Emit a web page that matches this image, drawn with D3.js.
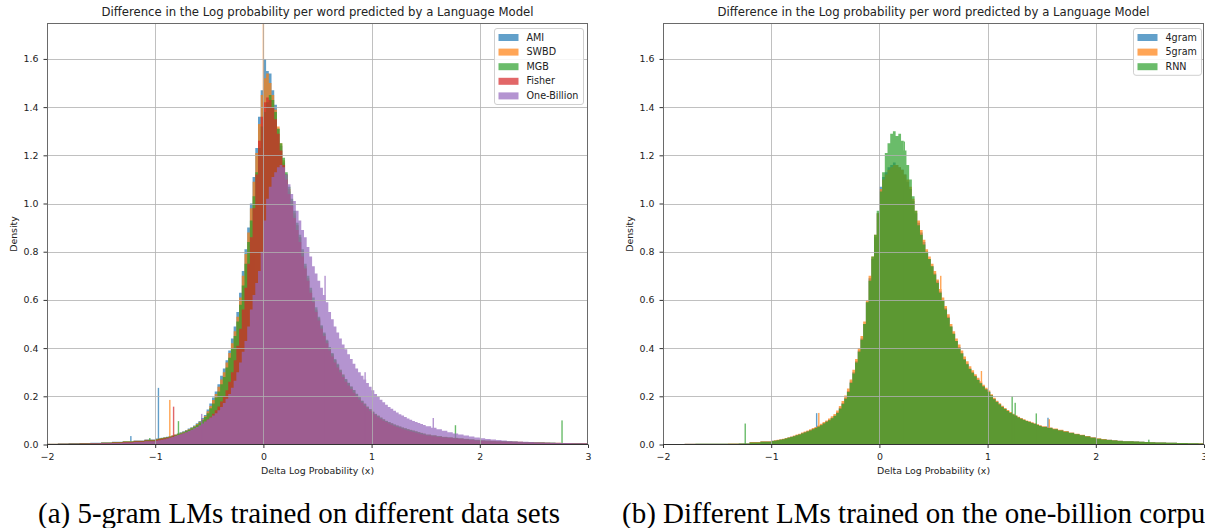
<!DOCTYPE html>
<html>
<head>
<meta charset="utf-8">
<script src="https://cdn.jsdelivr.net/npm/d3@7"></script>
<style>
  body { margin: 0; background: #fff; }
  svg { display: block; }
</style>
</head>
<body>
<svg id="fig" width="1205" height="528"></svg>
<script>
// Histogram bins: 0.1 wide on [-2,-1), 0.025 wide on [-1,1.5), 0.05 wide on [1.5,3]
const binEdges = [].concat(
  d3.range(10).map(i => -2 + i * 0.1),
  d3.range(100).map(i => -1 + i * 0.025),
  d3.range(31).map(i => 1.5 + i * 0.05)
);
const xTicks = [-2, -1, 0, 1, 2, 3];
const yTicks = [0, 0.2, 0.4, 0.6, 0.8, 1.0, 1.2, 1.4, 1.6];

const chartTitle = "Difference in the Log probability per word predicted by a Language Model";
const xLabel = "Delta Log Probability (x)";
const yLabel = "Density";

// ---- (a) 5-gram LMs on different data sets: density per bin ----
const leftNames = ["AMI", "SWBD", "MGB", "Fisher", "One-Billion"];

const amiDensity = [
  0.003,0.004,0.005,0.006,0.007,0.009,0.011,0.014,0.017,0.021,
  0.025,0.026,0.028,0.030,0.032,0.035,0.038,0.042,0.046,0.051,
  0.055,0.060,0.066,0.072,0.079,0.088,0.097,0.110,0.122,0.145,
  0.17,0.195,0.22,0.25,0.285,0.315,0.35,0.39,0.44,0.49,
  0.55,0.63,0.72,0.81,0.90,1.00,1.11,1.23,1.36,1.47,
  1.60,1.55,1.54,1.47,1.41,1.31,1.24,1.17,1.12,1.05,
  1.00,0.95,0.91,0.86,0.80,0.73,0.68,0.63,0.59,0.555,
  0.52,0.49,0.46,0.43,0.40,0.375,0.35,0.33,0.305,0.285,
  0.27,0.255,0.24,0.225,0.21,0.195,0.18,0.168,0.155,0.145,
  0.135,0.126,0.118,0.111,0.104,0.098,0.093,0.088,0.083,0.079,
  0.075,0.071,0.067,0.063,0.060,0.057,0.054,0.051,0.048,0.045,
  0.040,0.037,0.034,0.031,0.029,0.027,0.025,0.023,0.021,0.019,
  0.017,0.016,0.015,0.014,0.013,0.012,0.011,0.010,0.009,0.009,
  0.008,0.008,0.007,0.007,0.006,0.006,0.005,0.005,0.005,0.004
];
const swbdDensity = [
  0.003,0.003,0.004,0.005,0.006,0.008,0.010,0.013,0.016,0.020,
  0.023,0.025,0.027,0.029,0.031,0.034,0.037,0.041,0.045,0.049,
  0.053,0.058,0.063,0.069,0.076,0.085,0.094,0.105,0.118,0.138,
  0.16,0.185,0.21,0.24,0.27,0.30,0.34,0.38,0.42,0.47,
  0.53,0.61,0.70,0.79,0.88,0.98,1.09,1.21,1.33,1.45,
  1.52,1.54,1.50,1.45,1.39,1.32,1.25,1.18,1.12,1.06,
  1.01,0.96,0.91,0.86,0.80,0.74,0.69,0.64,0.60,0.56,
  0.525,0.49,0.46,0.43,0.40,0.375,0.35,0.33,0.31,0.29,
  0.27,0.255,0.24,0.225,0.21,0.196,0.182,0.17,0.158,0.147,
  0.137,0.128,0.12,0.112,0.105,0.099,0.093,0.088,0.083,0.079,
  0.075,0.071,0.067,0.064,0.061,0.058,0.055,0.052,0.049,0.046,
  0.041,0.038,0.035,0.032,0.030,0.028,0.026,0.024,0.022,0.020,
  0.018,0.017,0.016,0.015,0.014,0.013,0.012,0.011,0.010,0.009,
  0.009,0.008,0.008,0.007,0.007,0.006,0.006,0.005,0.005,0.005
];
const mgbDensity = [
  0.002,0.003,0.004,0.005,0.006,0.007,0.009,0.012,0.015,0.019,
  0.022,0.024,0.026,0.028,0.030,0.032,0.035,0.039,0.043,0.047,
  0.051,0.056,0.061,0.067,0.074,0.082,0.091,0.102,0.114,0.13,
  0.15,0.17,0.195,0.22,0.25,0.28,0.32,0.36,0.40,0.45,
  0.51,0.58,0.66,0.75,0.84,0.93,1.03,1.13,1.23,1.32,
  1.38,1.42,1.45,1.43,1.38,1.31,1.25,1.19,1.13,1.07,
  1.02,0.97,0.92,0.87,0.81,0.75,0.70,0.65,0.61,0.57,
  0.53,0.495,0.465,0.435,0.405,0.38,0.355,0.335,0.31,0.29,
  0.272,0.256,0.241,0.226,0.211,0.196,0.182,0.169,0.157,0.146,
  0.136,0.127,0.119,0.111,0.104,0.098,0.092,0.087,0.082,0.078,
  0.074,0.070,0.066,0.063,0.060,0.057,0.054,0.051,0.048,0.045,
  0.040,0.037,0.034,0.031,0.029,0.027,0.025,0.023,0.021,0.019,
  0.017,0.016,0.015,0.014,0.013,0.012,0.011,0.010,0.009,0.009,
  0.008,0.008,0.007,0.007,0.006,0.006,0.005,0.005,0.005,0.004
];
const fisherDensity = [
  0.002,0.003,0.003,0.004,0.005,0.006,0.008,0.010,0.013,0.017,
  0.020,0.022,0.024,0.026,0.028,0.030,0.033,0.036,0.039,0.043,
  0.046,0.050,0.054,0.059,0.064,0.070,0.077,0.085,0.094,0.105,
  0.115,0.128,0.142,0.158,0.178,0.20,0.225,0.26,0.30,0.35,
  0.41,0.48,0.56,0.65,0.75,0.86,0.98,1.12,1.26,1.36,
  1.42,1.44,1.43,1.40,1.35,1.29,1.22,1.16,1.10,1.04,
  0.99,0.94,0.89,0.84,0.78,0.73,0.68,0.63,0.59,0.55,
  0.515,0.48,0.45,0.42,0.39,0.365,0.34,0.32,0.30,0.28,
  0.26,0.245,0.23,0.215,0.20,0.187,0.174,0.162,0.15,0.14,
  0.13,0.121,0.113,0.106,0.099,0.093,0.087,0.082,0.077,0.073,
  0.069,0.065,0.061,0.058,0.055,0.052,0.049,0.046,0.043,0.040,
  0.037,0.034,0.031,0.029,0.027,0.025,0.023,0.021,0.019,0.017,
  0.015,0.014,0.013,0.012,0.011,0.010,0.009,0.009,0.008,0.008,
  0.007,0.007,0.006,0.006,0.005,0.005,0.005,0.004,0.004,0.004
];
const oneBillionDensity = [
  0.002,0.002,0.003,0.003,0.004,0.005,0.006,0.008,0.010,0.013,
  0.016,0.018,0.020,0.022,0.025,0.028,0.031,0.035,0.039,0.043,
  0.047,0.051,0.056,0.061,0.067,0.073,0.080,0.087,0.095,0.104,
  0.112,0.12,0.13,0.142,0.156,0.172,0.19,0.21,0.235,0.265,
  0.30,0.34,0.385,0.43,0.49,0.56,0.62,0.67,0.72,0.80,
  0.93,1.02,1.07,1.11,1.13,1.15,1.16,1.15,1.12,1.08,
  1.04,1.01,0.97,0.93,0.89,0.86,0.82,0.78,0.74,0.71,
  0.68,0.65,0.62,0.59,0.55,0.52,0.49,0.465,0.44,0.415,
  0.395,0.375,0.355,0.335,0.315,0.30,0.285,0.27,0.255,0.24,
  0.225,0.21,0.197,0.186,0.175,0.165,0.156,0.148,0.14,0.133,
  0.126,0.12,0.114,0.108,0.103,0.098,0.093,0.089,0.085,0.081,
  0.076,0.069,0.063,0.057,0.051,0.046,0.041,0.037,0.033,0.029,
  0.026,0.023,0.021,0.019,0.017,0.015,0.013,0.012,0.011,0.010,
  0.009,0.008,0.008,0.007,0.007,0.006,0.006,0.005,0.005,0.005
];

// Isolated single-bin outliers: [position, density]
const amiSpikes = [[-0.97, 0.235], [-1.225, 0.035]];
const swbdSpikes = [[-0.865, 0.185], [0.0, 1.9]];
const mgbSpikes = [[-0.785, 0.097], [-1.05, 0.027], [1.775, 0.08], [2.76, 0.1]];
const fisherSpikes = [[-0.83, 0.157]];
const oneBillionSpikes = [[-0.57, 0.127], [0.57, 0.70], [0.94, 0.30], [1.57, 0.11]];

// ---- (b) Different LMs on the one-billion corpus ----
const rightNames = ["4gram", "5gram", "RNN"];

const fourGramDensity = [
  0.002,0.002,0.003,0.003,0.003,0.003,0.003,0.004,0.009,0.012,
  0.0155,0.017,0.019,0.021,0.023,0.026,0.029,0.032,0.035,0.039,
  0.043,0.048,0.052,0.056,0.060,0.065,0.070,0.076,0.082,0.089,
  0.096,0.103,0.111,0.12,0.134,0.152,0.172,0.194,0.222,0.26,
  0.30,0.345,0.39,0.44,0.50,0.59,0.69,0.77,0.86,0.96,
  1.07,1.11,1.13,1.15,1.16,1.17,1.16,1.15,1.14,1.12,
  1.09,1.06,1.01,0.96,0.92,0.88,0.84,0.80,0.77,0.74,
  0.71,0.675,0.635,0.60,0.565,0.53,0.49,0.46,0.43,0.405,
  0.38,0.355,0.335,0.315,0.30,0.285,0.27,0.256,0.243,0.23,
  0.22,0.205,0.19,0.178,0.168,0.158,0.148,0.140,0.132,0.125,
  0.119,0.113,0.108,0.103,0.098,0.094,0.090,0.086,0.082,0.078,
  0.074,0.069,0.064,0.059,0.054,0.049,0.044,0.039,0.034,0.029,
  0.024,0.022,0.020,0.018,0.016,0.014,0.013,0.012,0.011,0.010,
  0.009,0.008,0.008,0.007,0.007,0.006,0.006,0.005,0.005,0.004
];
const fiveGramDensity = [
  0.002,0.002,0.003,0.003,0.003,0.003,0.004,0.004,0.010,0.013,
  0.016,0.018,0.020,0.022,0.024,0.027,0.030,0.033,0.037,0.041,
  0.045,0.050,0.054,0.058,0.063,0.068,0.073,0.079,0.086,0.093,
  0.100,0.108,0.117,0.127,0.141,0.160,0.180,0.203,0.232,0.27,
  0.31,0.355,0.40,0.45,0.51,0.60,0.70,0.78,0.87,0.96,
  1.06,1.10,1.12,1.14,1.15,1.16,1.16,1.15,1.14,1.12,
  1.10,1.07,1.02,0.97,0.93,0.89,0.85,0.81,0.78,0.75,
  0.72,0.685,0.645,0.61,0.575,0.54,0.50,0.47,0.44,0.415,
  0.39,0.365,0.345,0.325,0.308,0.292,0.277,0.262,0.248,0.235,
  0.224,0.209,0.194,0.182,0.171,0.161,0.151,0.143,0.135,0.128,
  0.121,0.115,0.110,0.105,0.100,0.096,0.092,0.088,0.084,0.080,
  0.076,0.071,0.066,0.061,0.056,0.050,0.045,0.040,0.035,0.030,
  0.026,0.023,0.020,0.018,0.016,0.014,0.013,0.012,0.011,0.010,
  0.009,0.008,0.008,0.007,0.007,0.006,0.006,0.005,0.005,0.005
];
const rnnDensity = [
  0.002,0.002,0.002,0.003,0.003,0.003,0.003,0.004,0.008,0.011,
  0.015,0.016,0.018,0.020,0.022,0.025,0.028,0.031,0.034,0.038,
  0.042,0.046,0.050,0.054,0.058,0.063,0.068,0.074,0.080,0.087,
  0.094,0.101,0.109,0.118,0.131,0.148,0.168,0.19,0.218,0.255,
  0.295,0.34,0.385,0.435,0.50,0.59,0.68,0.78,0.87,0.97,
  1.05,1.13,1.21,1.25,1.29,1.30,1.28,1.29,1.26,1.22,
  1.16,1.10,1.03,0.97,0.91,0.87,0.83,0.80,0.77,0.74,
  0.705,0.67,0.63,0.595,0.56,0.525,0.49,0.46,0.43,0.40,
  0.378,0.353,0.333,0.313,0.298,0.283,0.268,0.254,0.241,0.228,
  0.218,0.203,0.188,0.176,0.166,0.156,0.147,0.139,0.131,0.124,
  0.118,0.112,0.107,0.102,0.097,0.093,0.089,0.085,0.081,0.077,
  0.073,0.068,0.063,0.058,0.053,0.048,0.043,0.038,0.033,0.028,
  0.024,0.021,0.019,0.017,0.015,0.014,0.013,0.012,0.011,0.010,
  0.009,0.008,0.008,0.007,0.007,0.006,0.006,0.005,0.005,0.004
];

const fourGramSpikes = [[-0.58, 0.13], [0.54, 0.68], [1.558, 0.111]];
const fiveGramSpikes = [[-0.56, 0.131], [0.567, 0.70], [0.943, 0.305], [1.57, 0.105]];
const rnnSpikes = [[-1.24, 0.087], [0.23, 1.257], [1.227, 0.2], [1.255, 0.173], [1.45, 0.129], [2.49, 0.02]];

// matplotlib tab10 palette
const palette = ["#1f77b4", "#ff7f0e", "#2ca02c", "#d62728", "#9467bd"];

const captions = [
  "(a) 5-gram LMs trained on different data sets",
  "(b) Different LMs trained on the one-billion corpus"
];

// ---------------------------------------------------------------------------
const svg = d3.select("#fig");
const font = "'DejaVu Sans', sans-serif";
const plotTop = 23.5, plotBottom = 444.5, plotWidth = 541;
const yMax = 1.747;

function drawPanel(left, names, densities, spikes, legendBox, idx) {
  const x = d3.scaleLinear().domain([-2, 3]).range([left, left + plotWidth]);
  const y = d3.scaleLinear().domain([0, yMax]).range([plotBottom, plotTop]);
  const g = svg.append("g");

  const clipId = "clip" + idx;
  svg.append("clipPath").attr("id", clipId)
    .append("rect").attr("x", left).attr("y", plotTop)
    .attr("width", plotWidth).attr("height", plotBottom - plotTop);

  const area = d3.area()
    .x(d => x(d.x)).y0(y(0)).y1(d => y(d.y))
    .curve(d3.curveStepAfter);

  const bars = g.append("g").attr("clip-path", `url(#${clipId})`);
  densities.forEach((vals, k) => {
    const pts = vals.map((v, i) => ({ x: binEdges[i], y: v }));
    pts.push({ x: binEdges[vals.length], y: vals[vals.length - 1] });
    const layer = bars.append("g").attr("opacity", 0.7).attr("fill", palette[k]);
    layer.append("path").attr("d", area(pts));
    layer.selectAll("rect").data(spikes[k]).join("rect")
      .attr("x", d => x(d[0]) - 0.7)
      .attr("width", 1.4)
      .attr("y", d => y(d[1]))
      .attr("height", d => y(0) - y(d[1]));
  });

  // grid on top of the bars
  const grid = g.append("g").attr("stroke", "#b0b0b0").attr("stroke-opacity", 0.8).attr("stroke-width", 1);
  grid.selectAll(".gx").data(xTicks.slice(1, -1)).join("line")
    .attr("x1", d => Math.round(x(d)) + 0.5).attr("x2", d => Math.round(x(d)) + 0.5)
    .attr("y1", plotTop).attr("y2", plotBottom);
  grid.selectAll(".gy").data(yTicks.slice(1)).join("line")
    .attr("x1", left).attr("x2", left + plotWidth)
    .attr("y1", d => Math.round(y(d)) + 0.5).attr("y2", d => Math.round(y(d)) + 0.5);

  // frame
  g.append("rect").attr("x", left + 0.5).attr("y", plotTop).attr("width", plotWidth - 1)
    .attr("height", plotBottom - plotTop).attr("fill", "none")
    .attr("stroke", "#6a6a6a").attr("stroke-width", 1);
  g.append("line").attr("x1", left).attr("x2", left + plotWidth)
    .attr("y1", plotBottom).attr("y2", plotBottom)
    .attr("stroke", "#333").attr("stroke-width", 1.2);

  const minus = d => (d < 0 ? "\u2212" + Math.abs(d) : String(d));
  const xAxis = g.append("g").attr("transform", `translate(0,${plotBottom})`)
    .call(d3.axisBottom(x).tickValues(xTicks).tickFormat(minus).tickSize(3.5).tickPadding(5.5));
  const yAxis = g.append("g").attr("transform", `translate(${left},0)`)
    .call(d3.axisLeft(y).tickValues(yTicks).tickFormat(d3.format(".1f")).tickSize(3.5).tickPadding(5));
  [xAxis, yAxis].forEach(a => {
    a.select(".domain").remove();
    a.selectAll(".tick line").attr("stroke", "#333");
    a.selectAll(".tick text").attr("fill", "#222").style("font-size", "9.4px").style("font-family", font);
  });

  // titles
  g.append("text").attr("x", left + plotWidth / 2).attr("y", 16)
    .attr("text-anchor", "middle").attr("font-family", font).attr("font-size", 11.7)
    .attr("fill", "#222").text(chartTitle);
  g.append("text").attr("x", left + plotWidth / 2).attr("y", 474)
    .attr("text-anchor", "middle").attr("font-family", font).attr("font-size", 9.4)
    .attr("fill", "#222").text(xLabel);
  g.append("text").attr("transform", `translate(${left - 30},${(plotTop + plotBottom) / 2}) rotate(-90)`)
    .attr("text-anchor", "middle").attr("font-family", font).attr("font-size", 9.4)
    .attr("fill", "#222").text(yLabel);

  // legend
  const lg = g.append("g");
  lg.append("rect").attr("x", legendBox.x).attr("y", legendBox.y)
    .attr("width", legendBox.w).attr("height", 14.6 * names.length + 3)
    .attr("rx", 2.5).attr("fill", "#fff").attr("fill-opacity", 0.85)
    .attr("stroke", "#d0d0d0").attr("stroke-width", 1);
  const rows = lg.selectAll(".row").data(names).join("g")
    .attr("transform", (d, i) => `translate(${legendBox.x + 4},${legendBox.y + 8.5 + i * 14.6})`);
  rows.append("rect").attr("x", 0).attr("y", -3).attr("width", 20).attr("height", 7)
    .attr("fill", (d, i) => palette[i]).attr("opacity", 0.7);
  rows.append("text").attr("x", 28).attr("y", 3.6)
    .attr("font-family", font).attr("font-size", 9.6).attr("fill", "#222").text(d => d);

  // caption
  svg.append("text").attr("x", idx === 0 ? 38 : 622).attr("y", 523)
    .attr("font-family", "'Liberation Serif', 'Times New Roman', serif")
    .attr("font-size", 29).attr("fill", "#000").text(captions[idx]);
}

drawPanel(47,
  leftNames,
  [amiDensity, swbdDensity, mgbDensity, fisherDensity, oneBillionDensity],
  [amiSpikes, swbdSpikes, mgbSpikes, fisherSpikes, oneBillionSpikes],
  { x: 494.5, y: 28.5, w: 89 }, 0);

drawPanel(663,
  rightNames,
  [fourGramDensity, fiveGramDensity, rnnDensity],
  [fourGramSpikes, fiveGramSpikes, rnnSpikes],
  { x: 1133.5, y: 28.5, w: 68 }, 1);
</script>
</body>
</html>
